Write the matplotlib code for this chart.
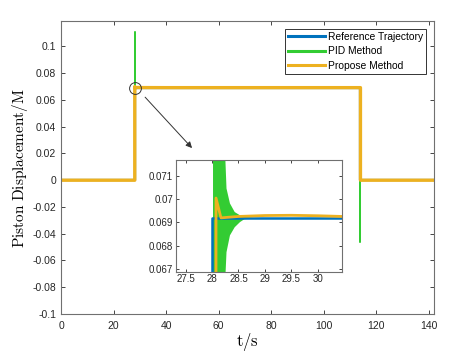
import matplotlib
matplotlib.use("Agg")
import matplotlib.pyplot as plt

plt.rcParams['font.family'] = ['Liberation Sans', 'DejaVu Sans']
plt.rcParams['mathtext.fontset'] = 'cm'

# ---- data ----
ref_t = [0, 28.0, 28.0, 114.0, 114.0, 142]
ref_y = [0, 0, 0.0692, 0.0692, 0, 0]

pid_t = [0, 28.0, 28.0, 28.0, 28.6, 114.0, 114.0, 114.0, 142]
pid_y = [0, 0, 0.1108, 0.0692, 0.0692, 0.0692, -0.046, 0, 0]

prop_t = [0, 28.076, 28.076, 28.17, 28.5, 29.0, 29.5, 30.0, 30.46, 40, 114.0, 114.0, 142]
prop_y = [0, 0, 0.07004, 0.06919, 0.06925, 0.06929, 0.0693, 0.06928, 0.06925, 0.0692, 0.0692, 0, 0]

# PID oscillation envelope (zoom view)
env_t = [28.01, 28.23, 28.265, 28.33, 28.42, 28.52, 28.6, 28.8, 30.46]
env_hi = [0.0725, 0.0725, 0.07047, 0.06983, 0.06946, 0.06932, 0.06925, 0.0692, 0.0692]
env_lo = [0.0660, 0.0660, 0.06774, 0.06846, 0.06881, 0.06903, 0.06915, 0.0692, 0.0692]

labels = ['Reference Trajectory', 'PID Method', 'Propose Method']
c_ref, c_pid, c_prop = '#0072BD', '#33CC33', '#EDB120'
axc = '#262626'

fig = plt.figure(figsize=(4.49, 3.58), dpi=100)
ax = fig.add_axes([0.1359, 0.1229, 0.8307, 0.8184])
ax.plot(ref_t, ref_y, color=c_ref, lw=1.6, label=labels[0])
ax.plot(pid_t, pid_y, color=c_pid, lw=1.1, label=labels[1])
ax.plot(prop_t, prop_y, color=c_prop, lw=2.4, label=labels[2])
ax.set_xlim(0, 142)
ax.set_ylim(-0.1, 0.119)
ax.set_xticks(range(0, 141, 20))
ax.set_yticks([-0.1, -0.08, -0.06, -0.04, -0.02, 0, 0.02, 0.04, 0.06, 0.08, 0.1])
ax.set_yticklabels(['-0.1', '-0.08', '-0.06', '-0.04', '-0.02', '0', '0.02', '0.04', '0.06', '0.08', '0.1'])
ax.tick_params(direction='in', top=True, right=True, labelsize=7.5, colors=axc,
               length=3, width=0.6)
ax.tick_params(axis='x', pad=5)
for s in ax.spines.values():
    s.set_color('#707070'); s.set_linewidth(0.8)
ax.set_xlabel(r'$\mathrm{t/s}$', fontsize=12, labelpad=0)
ax.set_ylabel(r'$\mathrm{Piston\ Displacement/M}$', fontsize=11, labelpad=2)

leg = ax.legend(loc='upper right', bbox_to_anchor=(0.979, 0.973), borderaxespad=0,
                fontsize=7.4, handlelength=3.6, fancybox=False, framealpha=1,
                edgecolor='#333333', borderpad=0.3, labelspacing=0.42, handletextpad=0.3)
leg.get_frame().set_linewidth(0.7)
for h in leg.get_lines():
    h.set_linewidth(2.2)

# circle marker
ax.plot([28], [0.069], marker='o', ms=8.5, mfc='none', mec='#333333', mew=0.7, zorder=5)
ax.annotate('', xy=(50.6, 0.0225), xytext=(31.3, 0.0636),
            arrowprops=dict(arrowstyle='-|>', color='#333333', lw=0.7, mutation_scale=9))

# inset
ins = fig.add_axes([0.392, 0.241, 0.370, 0.312])
ins.plot(ref_t, ref_y, color=c_ref, lw=1.8)
ins.fill_between(env_t, env_lo, env_hi, color=c_pid, lw=0)
ins.plot(prop_t, prop_y, color=c_prop, lw=2.0)
ins.set_xlim(27.32, 30.46)
ins.set_ylim(0.06688, 0.07167)
ins.set_xticks([27.5, 28, 28.5, 29, 29.5, 30])
ins.set_xticklabels(['27.5', '28', '28.5', '29', '29.5', '30'])
ins.set_yticks([0.067, 0.068, 0.069, 0.07, 0.071])
ins.set_yticklabels(['0.067', '0.068', '0.069', '0.07', '0.071'])
ins.tick_params(direction='in', top=True, right=True, labelsize=7, colors=axc,
                length=2.5, width=0.6, pad=2)
for s in ins.spines.values():
    s.set_color('#707070'); s.set_linewidth(0.8)

fig.savefig('out.png', dpi=100)
